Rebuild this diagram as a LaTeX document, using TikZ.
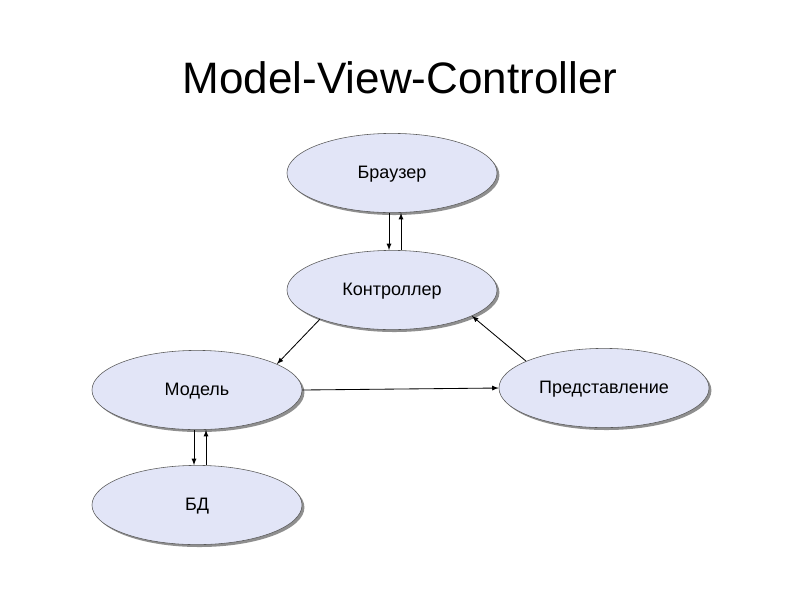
\documentclass[tikz,border=0pt]{standalone}
\usepackage{fontspec}
\setmainfont{Liberation Sans}
\usetikzlibrary{positioning,shapes.geometric,shadows,arrows}
\definecolor{blobfill}{RGB}{226,229,247}
\tikzset{
	blob/.style={ellipse,draw=black!65,fill=blobfill,minimum width=5.25cm,minimum height=1.98cm,
		inner sep=0pt,font=\fontsize{12.8}{15}\selectfont,text height=0.9em,text depth=0.18em,
		drop shadow={shadow xshift=0.06cm,shadow yshift=-0.06cm,fill=black!55,opacity=0.8}},
	link/.style={-latex,line width=0.6pt}
}

\begin{document}
\begin{tikzpicture}[x=0.025cm,y=-0.025cm]
	\useasboundingbox (0,0) rectangle (800,600);
	\node (ttl) at (400,78) {\fontsize{31.3}{36}\selectfont Model-View-Controller};
	\node[blob] (brw) at (392,173) {Браузер};
	\node[blob] (ctl) at (392,290) {Контроллер};
	\node[blob] (mdl) at (197,390) {Модель};
	\node[blob] (viw) at (604,388) {Представление};
	\node[blob] (bd)  at (197,505) {БД};
	\path[link]
	([xshift=-0.075cm]brw.south) edge ([xshift=-0.075cm]ctl.north)
	([xshift=0.225cm]ctl.north) edge ([xshift=0.225cm]brw.south)
	([xshift=-0.075cm]mdl.south) edge ([xshift=-0.075cm]bd.north)
	([xshift=0.225cm]bd.north) edge ([xshift=0.225cm]mdl.south)
	(ctl.202) edge (mdl.18)
	(viw.161) edge (ctl.342)
	(mdl.east) edge (viw.west);
\end{tikzpicture}
\end{document}
